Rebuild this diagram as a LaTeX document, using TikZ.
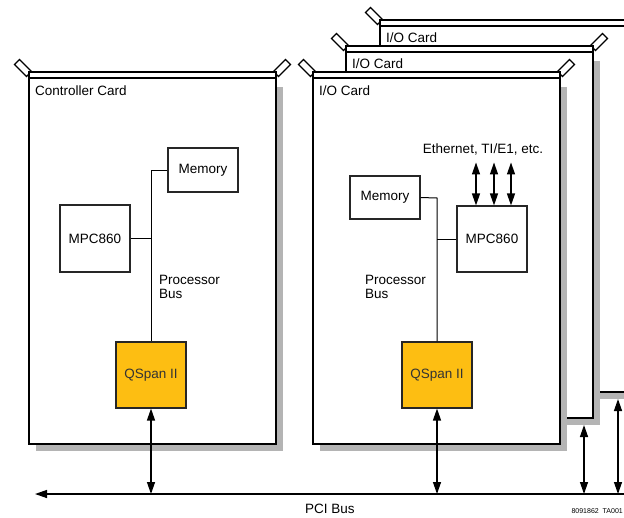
\documentclass[tikz,border=0pt]{standalone}
\usepackage{fontspec}
\setmainfont{Liberation Sans}
\usetikzlibrary{arrows.meta}
\usetikzlibrary{calc}

\definecolor{qspanorange}{RGB}{253,190,18}
\definecolor{shadowgray}{RGB}{180,180,180}

\tikzset{
  cardline/.style={draw=black,line width=1.4pt,fill=white},
  cardtab/.style={draw=black,line width=1.2pt,fill=white},
  chip/.style={draw=black!85,line width=1.1pt,fill=white,minimum width=70pt,inner sep=0pt},
  qspan/.style={chip,fill=qspanorange,text=black!80},
  wire/.style={line width=1pt},
  biarrow/.style={{Triangle[length=12pt,width=8pt]}-{Triangle[length=12pt,width=8pt]},line width=1.3pt},
  cardlabel/.style={anchor=base west,inner sep=0pt},
}

% one card: shadow, tabs, top bar and body (local coordinates)
\newcommand{\cardframe}{%
  \fill[shadowgray] (7,15) rectangle (254,379);
  \draw[cardtab,shift={(0,2)},rotate=135] (0,-3.5) rectangle (17,3.5);
  \draw[cardtab,shift={(247,2)},rotate=45] (0,-3.5) rectangle (17,3.5);
  \draw[cardline] (0,0) rectangle (247,6);
  \draw[cardline] (0,6) rectangle (247,372);
}

\begin{document}
\begin{tikzpicture}[x=1pt,y=-1pt,font=\fontsize{13.5}{13.5}\selectfont]
  \useasboundingbox (0,0) rectangle (624,517);
  % I/O cards at the back
  \begin{scope}[shift={(380,20)}]
    \cardframe
    \node[cardlabel] (ioLabelC) at (6,22) {I/O Card};
  \end{scope}
  \begin{scope}[shift={(346,46)}]
    \cardframe
    \node[cardlabel] (ioLabelB) at (6,22) {I/O Card};
  \end{scope}
  % front I/O card
  \begin{scope}[shift={(313,72)}]
    \cardframe
    \node[cardlabel] (ioLabelA) at (6,23) {I/O Card};
    \node[chip,minimum height=43pt] (memB) at (72,125.5) {Memory};
    \node[chip,minimum height=66pt] (mpcB) at (179,167) {MPC860};
    \node[qspan,minimum height=66pt] (qspanB) at (124,303) {QSpan II};
    \coordinate (busB) at (124,126);
    \node[anchor=north west,inner sep=0pt,align=left] (procBusB) at (52,203.5) {Processor\\Bus};
    \node[anchor=base,inner sep=0pt] (ethLabel) at (170,81) {Ethernet, TI/E1, etc.};
    \draw[wire] (memB.east) -- (busB) -- (qspanB.north);
    \draw[wire] (mpcB.west) -- (mpcB.west -| busB);
    \foreach \dx in {-16,2,19}
      \draw[biarrow] ($(mpcB.north)+(\dx,-43)$) -- ($(mpcB.north)+(\dx,0)$);
  \end{scope}
  % controller card
  \begin{scope}[shift={(29,72)}]
    \cardframe
    \node[cardlabel] (ctrlLabel) at (6,23) {Controller Card};
    \node[chip,minimum height=44pt] (memA) at (174,98) {Memory};
    \node[chip,minimum height=67pt] (mpcA) at (66,166.5) {MPC860};
    \node[qspan,minimum height=66pt] (qspanA) at (122,303) {QSpan II};
    \coordinate (busA) at (122,98);
    \node[anchor=north west,inner sep=0pt,align=left] (procBusA) at (130,203.5) {Processor\\Bus};
    \draw[wire] (memA.west) -- (busA) -- (qspanA.north);
    \draw[wire] (mpcA.east) -- (mpcA.east -| busA);
  \end{scope}
  % PCI bus
  \coordinate (busL) at (35,494);
  \coordinate (busR) at (624,494);
  \coordinate (io2foot) at (584,425);
  \coordinate (io3foot) at (618,399);
  \draw[line width=1.3pt,-{Triangle[length=12pt,width=8pt]}] (busR) -- (busL);
  \draw[biarrow] (qspanA.south) -- (qspanA.south |- busL);
  \draw[biarrow] (qspanB.south) -- (qspanB.south |- busL);
  \draw[biarrow] (io2foot) -- (io2foot |- busL);
  \draw[biarrow] (io3foot) -- (io3foot |- busL);
  \node[anchor=base,inner sep=0pt] (pciLabel) at (330,513) {PCI Bus};
  \node[anchor=base east,inner sep=0pt,font=\fontsize{7}{7}\selectfont] (figId) at (623,513) {8091862\ \ TA001};
\end{tikzpicture}
\end{document}
